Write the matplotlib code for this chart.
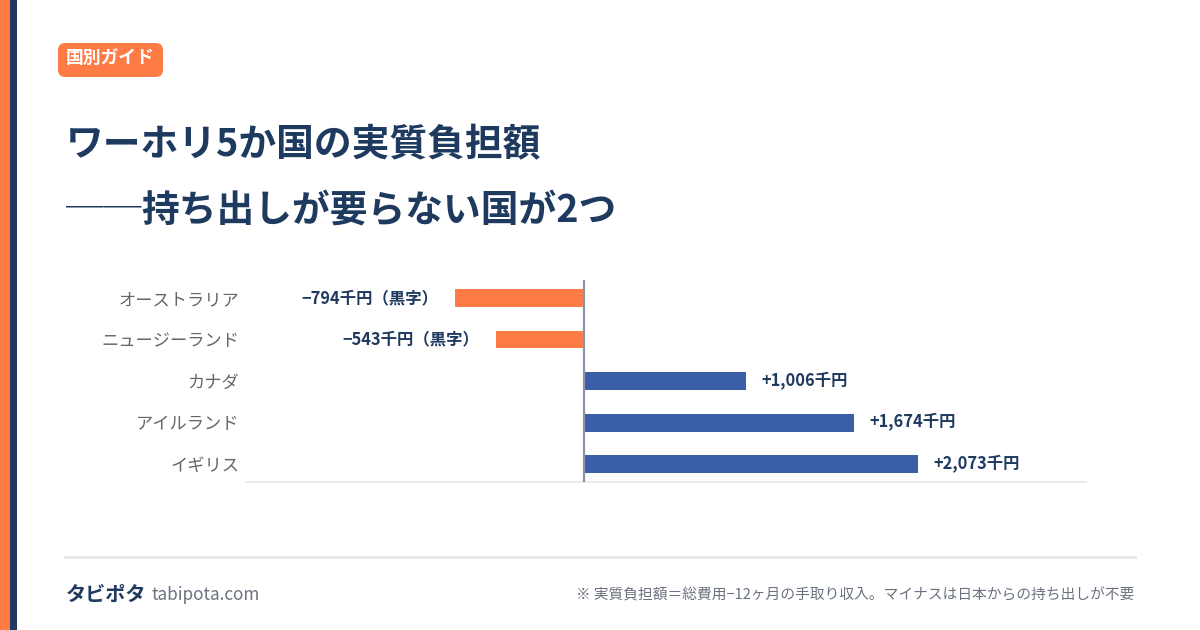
import matplotlib
matplotlib.use("Agg")
import matplotlib.pyplot as plt
from matplotlib.patches import FancyBboxPatch, Rectangle
from matplotlib.text import Annotation

plt.rcParams['font.family'] = ['Noto Sans CJK JP', 'DejaVu Sans']

# data (thousand yen, real burden over 12 months)
countries = ["オーストラリア", "ニュージーランド", "カナダ", "アイルランド", "イギリス"]
burden = [-794, -543, 1006, 1674, 2073]
value_labels = ["−794千円（黒字）", "−543千円（黒字）", "+1,006千円", "+1,674千円", "+2,073千円"]

ORANGE = "#ff7b45"
BLUE = "#3a5fa6"
NAVY = "#1f3a5f"
GRAY = "#666666"

fig = plt.figure(figsize=(12, 6.3), dpi=100)
fig.patch.set_facecolor("white")

# left stripes
fig.add_artist(Rectangle((0, 0), 10 / 1200, 1, transform=fig.transFigure,
                         facecolor=ORANGE, edgecolor="none"))
fig.add_artist(Rectangle((10 / 1200, 0), 7 / 1200, 1, transform=fig.transFigure,
                         facecolor=NAVY, edgecolor="none"))

# badge
fig.add_artist(FancyBboxPatch((58 / 1200, 1 - 77 / 630), 105 / 1200, 34 / 630,
                              boxstyle="round,pad=0,rounding_size=0.006",
                              transform=fig.transFigure, facecolor=ORANGE,
                              edgecolor="none", mutation_aspect=1200 / 630))
fig.text(110.5 / 1200, 1 - 59 / 630, "国別ガイド", color="white", fontsize=12.8,
         fontweight="bold", ha="center", va="center")

# title
fig.text(66 / 1200, 1 - 145 / 630, "ワーホリ5か国の実質負担額", color=NAVY,
         fontsize=27.2, fontweight="bold", ha="left", va="center")
dash = fig.text(66 / 1200, 1 - 210 / 630, "──", color=NAVY,
                fontsize=27.2, fontweight="normal", ha="left", va="center")
fig.add_artist(Annotation("持ち出しが要らない国が2つ", xy=(1, 0.5), xycoords=dash,
                          xytext=(0, 0), textcoords="offset points",
                          color=NAVY, fontsize=27.2, fontweight="bold",
                          ha="left", va="center"))

# chart
ax = fig.add_axes([246 / 1200, 1 - 482 / 630, 840 / 1200, 202 / 630])
ypos = list(range(len(countries)))
colors = [ORANGE if v < 0 else BLUE for v in burden]
ax.barh(ypos, burden, height=0.43, color=colors, zorder=2)
ax.set_xlim(-2090, 3110)
ax.set_ylim(len(countries) - 0.57, -0.43)
ax.axvline(0, color="#8a94a6", linewidth=1.6, zorder=3)

for y, v, lab in zip(ypos, burden, value_labels):
    if v < 0:
        ax.annotate(lab, (v, y), xytext=(-12, 0), textcoords="offset points",
                    ha="right", va="center", fontsize=11.8, fontweight="bold", color=NAVY,
                    family=['Noto Sans CJK JP', 'DejaVu Sans'])
    else:
        ax.annotate(lab, (v, y), xytext=(11, 0), textcoords="offset points",
                    ha="left", va="center", fontsize=11.8, fontweight="bold", color=NAVY,
                    family=['Noto Sans CJK JP', 'DejaVu Sans'])

ax.set_yticks(ypos)
ax.set_yticklabels(countries, fontsize=12.4, color=GRAY)
ax.tick_params(axis="y", length=0, pad=5)
ax.set_xticks([])
for side in ["top", "right", "left"]:
    ax.spines[side].set_visible(False)
ax.spines["bottom"].set_color("#e5e7eb")
ax.spines["bottom"].set_linewidth(1.2)

# footer
fig.add_artist(plt.Line2D([65 / 1200, 1135 / 1200], [1 - 557 / 630, 1 - 557 / 630],
                          transform=fig.transFigure, color="#e5e7eb", linewidth=2))
fig.text(66 / 1200, 1 - 594 / 630, "タビポタ", color=NAVY, fontsize=14.5,
         fontweight="bold", ha="left", va="center")
fig.text(151 / 1200, 1 - 595 / 630, "tabipota.com", color="#6b7280", fontsize=12.3,
         ha="left", va="center")
fig.text(1134 / 1200, 1 - 595 / 630,
         "※ 実質負担額＝総費用−12ヶ月の手取り収入。マイナスは日本からの持ち出しが不要",
         color="#6b7280", fontsize=10.6, ha="right", va="center")

fig.savefig("out.png", dpi=100, facecolor="white")
